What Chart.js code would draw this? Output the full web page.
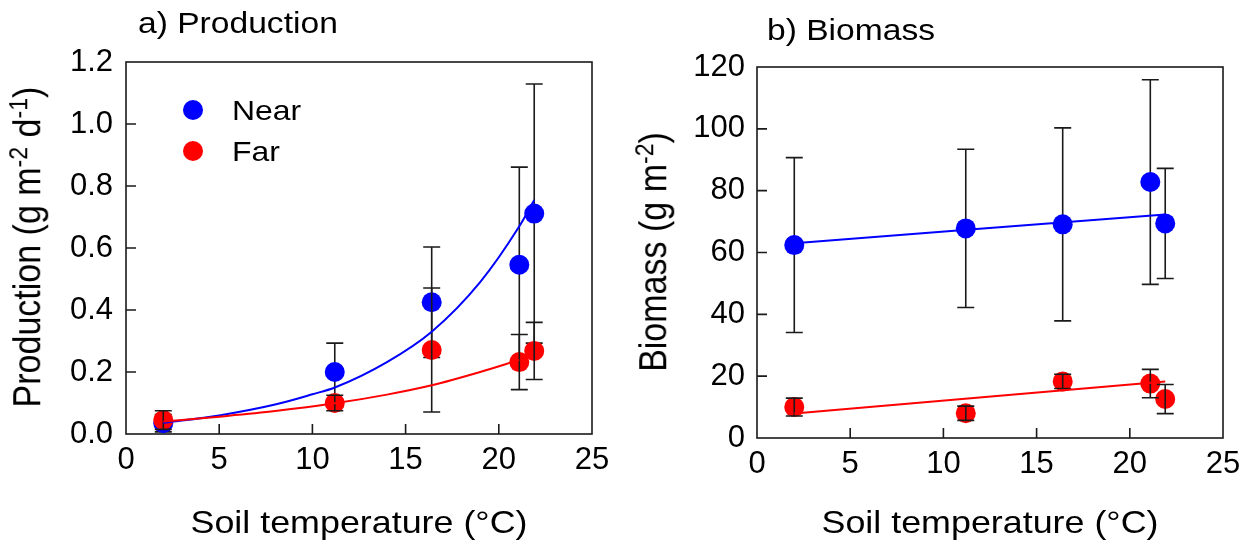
<!DOCTYPE html>
<html>
<head>
<meta charset="utf-8">
<script src="https://cdn.jsdelivr.net/npm/chart.js@4.4.0/dist/chart.umd.min.js"></script>
<style>
  body { margin: 0; background: #fff; }
  #wrap { position: relative; width: 1254px; height: 541px; overflow: hidden;
          font-family: 'Liberation Sans', Arial, sans-serif; color: #000; }
  .panel { position: absolute; top: 0; width: 627px; height: 541px; }
  .txt { position: absolute; white-space: nowrap; transform-origin: 0 0; transform: scaleX(1.12); }
  .xt { position: absolute; white-space: nowrap; font-size: 32px; line-height: 32px;
        transform: translateX(-50%) scaleX(1.12); }
  .yt { position: absolute; width: 0; height: 0; transform-origin: 0 0;
        transform: scaleX(1.12) rotate(-90deg); }
  .yt span.in { position: absolute; left: 0; top: 0; white-space: nowrap; font-size: 34px;
        line-height: 34px; transform: translate(-50%, -50%); }
  .sup { font-size: 0.68em; position: relative; top: -0.5em; }
  .dot { position: absolute; width: 20px; height: 20px; border-radius: 50%; }
</style>
</head>
<body>
<div id="wrap">
  <div class="panel" style="left:0"><canvas id="prodChart"></canvas></div>
  <div class="panel" style="left:627px"><canvas id="bioChart"></canvas></div>

  <div class="txt" style="left:138px; top:8px; font-size:30px; line-height:30px">a) Production</div>
  <div class="txt" style="left:767px; top:15px; font-size:30px; line-height:30px">b) Biomass</div>

  <div class="xt" style="left:359px; top:506px">Soil temperature (°C)</div>
  <div class="xt" style="left:990px; top:505.5px">Soil temperature (°C)</div>

  <div class="yt" style="left:29px; top:247px"><span class="in">Production (g m<span class="sup">-2</span> d<span class="sup">-1</span>)</span></div>
  <div class="yt" style="left:655px; top:252px"><span class="in">Biomass (g m<span class="sup">-2</span>)</span></div>

  <div class="dot" style="left:183px; top:100px; background:#0000ff"></div>
  <div class="dot" style="left:183px; top:141px; background:#ff0000"></div>
  <div class="txt" style="left:232px; top:96px; font-size:28.5px; line-height:28.5px">Near</div>
  <div class="txt" style="left:232px; top:137px; font-size:28.5px; line-height:28.5px">Far</div>
</div>

<script>
// soil temperature of the five sites (same in both panels)
const temps = [2.0, 11.2, 16.4, 21.1, 21.9];

// a) production, g m-2 d-1
const prodNear = [0.035, 0.20, 0.425, 0.546, 0.711];
const prodNearErr = [0.028, 0.093, 0.178, 0.315, 0.418];
const prodFar = [0.045, 0.10, 0.271, 0.232, 0.268];
const prodFarErr = [0.03, 0.025, 0.2, 0.089, 0.092];
// fitted curves
const prodNearFitX = [2, 5, 8, 10, 11.2, 14, 16.4, 19, 21.1, 21.9];
const prodNearFitY = [0.036, 0.06, 0.095, 0.128, 0.15, 0.232, 0.33, 0.49, 0.67, 0.755];
const prodFarFitX = [2, 5, 8, 11.2, 14, 16.4, 19, 21.1];
const prodFarFitY = [0.04, 0.056, 0.074, 0.099, 0.127, 0.157, 0.2, 0.239];

// b) biomass, g m-2
const bioNear = [62.4, 67.8, 69.1, 82.8, 69.4];
const bioNearErr = [28.3, 25.6, 31.2, 33.1, 17.8];
const bioFar = [10.0, 8.0, 18.3, 17.6, 12.6];
const bioFarErr = [2.9, 2.3, 2.3, 4.6, 4.7];
const bioNearFitX = [2, 21.9];
const bioNearFitY = [63.0, 72.3];
const bioFarFitX = [2, 21.9];
const bioFarFitY = [7.9, 18.3];

// tick labels
const xTicks = [0, 5, 10, 15, 20, 25];
const prodTicks = [0, 0.2, 0.4, 0.6, 0.8, 1.0, 1.2];
const bioTicks = [0, 20, 40, 60, 80, 100, 120];

const BLUE = '#0000ff';
const RED = '#ff0000';
const INK = '#1a1a1a';
const FONT = "'Liberation Sans', Arial, sans-serif";

const toPoints = (xs, ys) => xs.map((x, i) => ({ x: x, y: ys[i] }));

// error bars: drawn under the Near markers and over the Far markers
function drawErrors(chart, index) {
  const ds = chart.data.datasets[index];
  if (!ds.errors) return;
  const meta = chart.getDatasetMeta(index);
  const ys = chart.scales.y;
  const ctx = chart.ctx;
  ctx.save();
  ctx.strokeStyle = INK;
  ctx.lineWidth = 1.6;
  ctx.beginPath();
  meta.data.forEach((pt, i) => {
    const v = ds.data[i].y, e = ds.errors[i];
    const top = ys.getPixelForValue(v + e);
    const bot = ys.getPixelForValue(v - e);
    ctx.moveTo(pt.x, top); ctx.lineTo(pt.x, bot);
    ctx.moveTo(pt.x - 8.5, top); ctx.lineTo(pt.x + 8.5, top);
    ctx.moveTo(pt.x - 8.5, bot); ctx.lineTo(pt.x + 8.5, bot);
  });
  ctx.stroke();
  ctx.restore();
}

const errorBars = {
  id: 'errorBars',
  beforeDatasetDraw(chart, args) {
    if (chart.data.datasets[args.index].errWhen === 'before') drawErrors(chart, args.index);
  },
  afterDatasetDraw(chart, args) {
    if (chart.data.datasets[args.index].errWhen === 'after') drawErrors(chart, args.index);
  }
};

// box round the plot and inward tick marks
const frame = {
  id: 'frame',
  afterDraw(chart) {
    const { ctx, chartArea: a, scales } = chart;
    ctx.save();
    ctx.strokeStyle = INK;
    ctx.lineWidth = 1.6;
    ctx.strokeRect(a.left, a.top, a.right - a.left, a.bottom - a.top);
    ctx.beginPath();
    scales.x.ticks.slice(1, -1).forEach(t => {
      const px = scales.x.getPixelForValue(t.value);
      ctx.moveTo(px, a.bottom); ctx.lineTo(px, a.bottom - 10);
    });
    scales.y.ticks.slice(1, -1).forEach(t => {
      const py = scales.y.getPixelForValue(t.value);
      ctx.moveTo(a.left, py); ctx.lineTo(a.left + 10, py);
    });
    ctx.stroke();
    ctx.restore();
  }
};

function makeChart(id, o) {
  const markers = (data, color, errs, when, order) => ({
    data: data, errors: errs, errWhen: when, order: order,
    backgroundColor: color, borderColor: color, borderWidth: 0,
    pointRadius: 10, pointHoverRadius: 10, showLine: false
  });
  const fit = (data, color, order) => ({
    data: data, order: order, showLine: true, borderColor: color, borderWidth: 2,
    pointRadius: 0, pointHoverRadius: 0, cubicInterpolationMode: 'monotone', fill: false
  });
  return new Chart(document.getElementById(id), {
    type: 'scatter',
    data: {
      datasets: [
        markers(toPoints(temps, o.near), BLUE, o.nearErr, 'before', 6),
        markers(toPoints(temps, o.far), RED, o.farErr, 'after', 5),
        fit(toPoints(o.nearFitX, o.nearFitY), BLUE, 4),
        fit(toPoints(o.farFitX, o.farFitY), RED, 3)
      ]
    },
    options: {
      responsive: true,
      maintainAspectRatio: false,
      animation: false,
      layout: { padding: { left: 0, right: o.padRight, top: o.padTop, bottom: 0 } },
      plugins: { legend: { display: false }, tooltip: { enabled: false } },
      scales: {
        x: {
          type: 'linear', min: 0, max: 25,
          grid: { display: false, drawTicks: false }, border: { display: false },
          afterBuildTicks: s => { s.ticks = xTicks.map(v => ({ value: v })); },
          afterFit: s => { s.height = o.xHeight; },
          ticks: { padding: 8, color: '#000', font: { family: FONT, size: 31 }, maxRotation: 0 }
        },
        y: {
          type: 'linear', min: 0, max: o.yTicks[o.yTicks.length - 1],
          grid: { display: false, drawTicks: false }, border: { display: false },
          afterBuildTicks: s => { s.ticks = o.yTicks.map(v => ({ value: v })); },
          afterFit: s => { s.width = o.yWidth; },
          ticks: { padding: o.yPad, color: '#000', font: { family: FONT, size: 31 }, callback: o.fmt }
        }
      }
    },
    plugins: [errorBars, frame]
  });
}

makeChart('prodChart', {
  near: prodNear, nearErr: prodNearErr, far: prodFar, farErr: prodFarErr,
  nearFitX: prodNearFitX, nearFitY: prodNearFitY, farFitX: prodFarFitX, farFitY: prodFarFitY,
  yTicks: prodTicks, fmt: v => v.toFixed(1),
  padTop: 62, padRight: 35, yWidth: 126, xHeight: 107, yPad: 13
});

makeChart('bioChart', {
  near: bioNear, nearErr: bioNearErr, far: bioFar, farErr: bioFarErr,
  nearFitX: bioNearFitX, nearFitY: bioNearFitY, farFitX: bioFarFitX, farFitY: bioFarFitY,
  yTicks: bioTicks, fmt: v => String(v),
  padTop: 67, padRight: 31, yWidth: 130, xHeight: 103, yPad: 12
});
</script>
</body>
</html>
